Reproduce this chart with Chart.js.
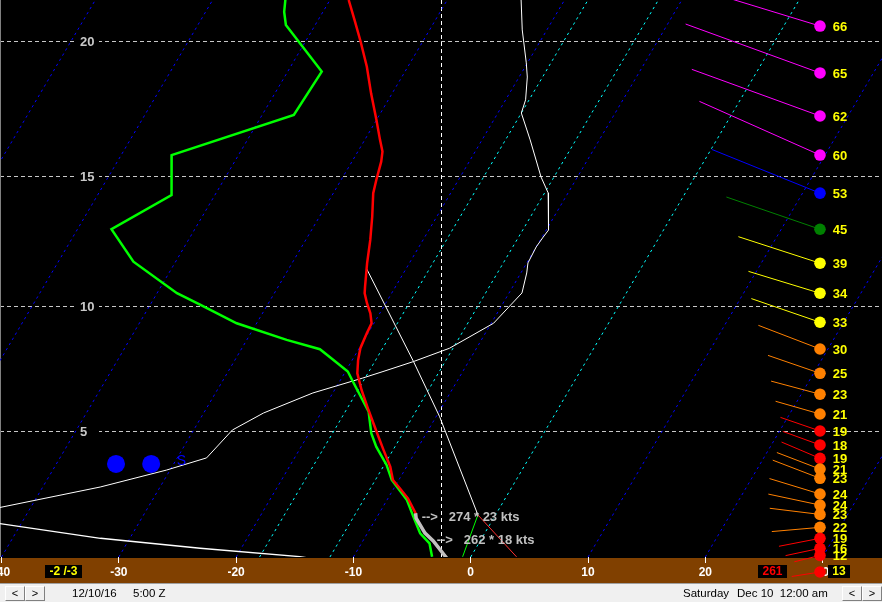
<!DOCTYPE html>
<html><head><meta charset="utf-8">
<script src="https://cdn.jsdelivr.net/npm/chart.js@4.4.0/dist/chart.umd.min.js"></script>
<style>
html,body{margin:0;padding:0;background:#f0f0f0;width:882px;height:602px;overflow:hidden;font-family:"Liberation Sans",Arial,sans-serif;}
#c{position:absolute;left:0;top:0;display:block;}
#status{position:absolute;left:0;top:583px;width:882px;height:18px;border-top:1px solid #a0a0a0;background:#f0f0f0;color:#000;font-size:11.5px;}
.btn{position:absolute;top:2px;width:18px;height:13px;border:1px solid;border-color:#ffffff #808080 #808080 #ffffff;background:#f0f0f0;text-align:center;line-height:13px;font-size:11px;color:#000;}
.txt{position:absolute;top:2px;line-height:15px;white-space:pre;}
.box{position:absolute;top:565px;height:13px;background:#000;font-weight:bold;font-size:12px;line-height:13px;text-align:center;white-space:pre;}
</style></head>
<body>
<canvas id="c" width="882" height="583"></canvas>
<div class="box" id="sfcTT" style="left:45px;width:37px;color:#ffff00;"></div>
<div class="box" id="sfcWD" style="left:758px;width:29px;color:#ff0000;"></div>
<div class="box" id="sfcWS" style="left:828px;width:22px;color:#ffff00;"></div>
<div id="status">
  <div class="btn" style="left:5px;">&lt;</div>
  <div class="btn" style="left:25px;">&gt;</div>
  <div class="txt" style="left:72px;">12/10/16</div>
  <div class="txt" style="left:133px;">5:00 Z</div>
  <div class="txt" style="left:683px;">Saturday</div>
  <div class="txt" style="left:737px;">Dec 10  12:00 am</div>
  <div class="btn" style="left:842px;">&lt;</div>
  <div class="btn" style="left:862px;">&gt;</div>
</div>
<script>
// ---------- data (heights in thousands of feet, temperatures in °C) ----------
const heightTicks = [5, 10, 15, 20];
const tempTicks   = [-40, -30, -20, -10, 0, 10, 20, 30];
const isoBlue     = [-60, -50, -40, -30, -20, -10, 10, 20, 30];
const isoCyan     = [-18, -12, 0];

const tempH = [21.5,20.78,20.0,19.08,18.1,17.11,16.37,15.93,15.55,14.86,14.36,13.46,12.57,11.67,10.76,10.5,10.11,9.71,9.32,8.92,8.33,7.86,7.33,6.66,5.85,4.91,4.22,3.54,2.99,2.65,2.23,1.61,1.40,0.78,0.45,-0.27];
const tempC = [-38.4,-36.9,-35.3,-33.5,-31.8,-30.0,-28.7,-27.9,-27.5,-27.0,-26.6,-25.5,-24.5,-23.6,-22.6,-22.3,-21.6,-20.8,-20.2,-20.1,-19.9,-19.5,-18.9,-17.7,-16.1,-14.2,-12.8,-11.4,-10.5,-9.5,-8.3,-6.9,-6.6,-5.1,-4.0,-2.0];

const dewH = [21.5,21.07,20.6,18.9,17.3,15.80,14.29,12.98,11.73,10.50,10.04,9.32,8.66,8.29,7.86,7.40,6.93,5.78,4.91,4.36,3.61,2.99,2.16,1.46,0.77,0.35,-0.22];
const dewC = [-43.8,-43.3,-42.5,-37.1,-37.3,-45.7,-43.7,-47.1,-43.6,-38.3,-35.7,-31.7,-26.6,-23.3,-21.6,-19.8,-18.7,-16.0,-14.7,-13.6,-11.8,-10.6,-8.3,-6.9,-5.5,-4.2,-3.3];

const lowLayerTop = 1.61;   // grey overlay on the lowest part of the temperature trace

const whiteAH = [21.5,20.42,19.22,18.70,17.86,17.37,16.37,14.97,14.37,12.95,12.68,12.30,11.68,11.29,10.51,9.32,8.33,7.80,7.40,7.14,6.54,5.73,5.04,3.90,3.40,2.70,1.83];
const whiteAC = [-23.7,-22.1,-20.1,-19.3,-18.3,-18.0,-15.9,-13.1,-11.7,-9.8,-9.9,-10.0,-9.9,-9.5,-8.9,-9.8,-12.3,-14.7,-16.8,-18.2,-21.7,-24.9,-26.7,-27.5,-30.3,-35.1,-42.8];

const whiteBH = [1.19,0.56,0.14,-0.21,-0.30];
const whiteBC = [-42.0,-32.5,-23.5,-14.6,-13.4];

const parcelH = [11.47,7.80,5.58,1.54];
const parcelC = [-23.4,-14.7,-9.7,-1.5];
const dryH    = [1.54,-0.22];
const dryC    = [-1.5,3.9];
const mixH    = [1.54,-0.22];
const mixC    = [-1.5,-0.7];

const windH   = [20.56,18.85,17.26,15.80,14.36,12.98,11.67,10.50,9.36,8.30,7.33,6.49,5.69,5.00,4.43,3.88,3.44,3.06,2.41,1.95,1.56,1.02,0.56,0.14,-0.16];
const windDir = [287,290,290,294,292,289,288,287,289,291,289,285,286,289,290,293,291,291,287,282,277,265,259,258,256];
const windSpd = [66,65,62,60,53,45,39,34,33,30,25,23,21,19,18,19,21,23,24,24,23,22,19,16,12];
const sfcDir = 261, sfcSpd = 13;

const motionDir = [274, 262];
const motionSpd = [23, 18];
const motionH   = [1.44, 0.49];
const motionX   = [-4.18, -2.90];

const snowDotX = [-30.24, -27.24];
const snowDotH = 3.65;
const snowTextX = -25.06, snowTextH = 3.78;

const markerX = -2.53;

// ---------- coordinate helpers ----------
function hToP(h){ return 1013.25*Math.pow(1-6.8756e-3*h, 5.2559); }
const PB = hToP(-0.227), PT = hToP(21.5);
const SKEW = 32.98;               // °C of skew per unit ln(p)
const XMIN = -40.128, XMAX = 35.064;
const sx = (T,p) => T + SKEW*Math.log(PB/p);
const mk = (H,C) => H.map((h,i)=>{const p=hToP(h);return {x:sx(C[i],p), y:p};});

const grayH = tempH.filter(h=>h<=lowLayerTop);
const grayC = tempC.slice(tempH.length-grayH.length);

document.getElementById('sfcTT').textContent = Math.round(tempC[tempC.length-1]) + ' /' + Math.round(dewC[dewC.length-1]);
document.getElementById('sfcWD').textContent = String(sfcDir);
document.getElementById('sfcWS').textContent = String(sfcSpd);

const line = (data,color,w,order,dash)=>({data, borderColor:color, borderWidth:w, order, showLine:true, pointRadius:0, tension:0, fill:false, borderDash:dash||[]});

const datasets = [
  line(mk(grayH,grayC), '#c0c0c0', 3.5, 1),
  line(mk(tempH,tempC), '#ff0000', 2.5, 2),
  line(mk(dewH,dewC),   '#00ff00', 2.5, 3),
  line(mk(parcelH,parcelC), '#ffffff', 1, 4),
  line(mk(dryH,dryC), '#ff3030', 1, 4),
  line(mk(mixH,mixC), '#00ff00', 1, 4),
  line(mk(whiteAH,whiteAC), '#ffffff', 1, 5),
  line(mk(whiteBH,whiteBC), '#ffffff', 1.4, 5),
  {data: snowDotX.map(x=>({x, y:hToP(snowDotH)})), showLine:false, pointRadius:9, pointBackgroundColor:'#0000ff', pointBorderWidth:0, order:0},
];
isoBlue.forEach(T=>datasets.push(line([{x:T,y:PB},{x:sx(T,PT),y:PT}], '#0000ff', 1, 10, [2.5,3.5])));
isoCyan.forEach(T=>datasets.push(line([{x:T,y:PB},{x:sx(T,PT),y:PT}], '#00ffff', 1, 9, [2.5,3.5])));

function windColor(s){
  if(s<20) return '#ff0000';
  if(s<=30) return '#ff8000';
  if(s<40) return '#ffff00';
  if(s<50) return '#008000';
  if(s<60) return '#0000ff';
  return '#ff00ff';
}

const bgPlugin = {
  id:'bg',
  beforeDraw(chart){
    const {ctx, chartArea:ca, width, height} = chart;
    ctx.save();
    ctx.fillStyle='#000'; ctx.fillRect(0,0,width,ca.bottom+1);
    ctx.fillStyle='#804000'; ctx.fillRect(0,ca.bottom+1,width,height-ca.bottom-1);
    ctx.restore();
  },
  beforeDatasetsDraw(chart){
    const {ctx, chartArea:ca} = chart;
    const xs=chart.scales.x, ys=chart.scales.y;
    ctx.save();
    ctx.beginPath(); ctx.rect(ca.left,ca.top,ca.width,ca.height); ctx.clip();
    ctx.lineWidth=1;
    ctx.strokeStyle='#c8c8c8'; ctx.setLineDash([4,3]);
    heightTicks.forEach(h=>{
      const py=Math.round(ys.getPixelForValue(hToP(h)))+0.5;
      ctx.beginPath(); ctx.moveTo(ca.left,py); ctx.lineTo(ca.right,py); ctx.stroke();
    });
    const mx=Math.round(xs.getPixelForValue(markerX))+0.5;
    ctx.strokeStyle='#ffffff'; ctx.setLineDash([4,3]);
    ctx.beginPath(); ctx.moveTo(mx,ca.top); ctx.lineTo(mx,ca.bottom); ctx.stroke();
    ctx.setLineDash([]);
    ctx.font='bold 13px "Liberation Sans", Arial, sans-serif';
    ctx.textAlign='left'; ctx.textBaseline='middle';
    heightTicks.forEach(h=>{
      const py=Math.round(ys.getPixelForValue(hToP(h)));
      ctx.fillStyle='#000'; ctx.fillRect(ca.left+76,py-7,23,14);
      ctx.fillStyle='#c8c8c8'; ctx.fillText(String(h), ca.left+80, py+1);
    });
    // left border
    ctx.fillStyle='#808080'; ctx.fillRect(0,0,1,ca.bottom);
    ctx.restore();
  },
  afterDatasetsDraw(chart){
    const {ctx, chartArea:ca} = chart;
    const xs=chart.scales.x, ys=chart.scales.y;
    ctx.save();
    // storm motion labels
    ctx.font='bold 13px "Liberation Sans", Arial, sans-serif';
    ctx.textAlign='left'; ctx.textBaseline='middle'; ctx.fillStyle='#c0c0c0';
    motionDir.forEach((d,i)=>{
      const px=xs.getPixelForValue(motionX[i]), py=ys.getPixelForValue(hToP(motionH[i]));
      ctx.fillText('-->', px, py);
      ctx.fillText(d+' * '+motionSpd[i]+' kts', px+27, py);
    });
    // snow marker text
    ctx.fillStyle='#0000ff'; ctx.font='14px "Liberation Sans", Arial, sans-serif';
    ctx.fillText('S', xs.getPixelForValue(snowTextX), ys.getPixelForValue(hToP(snowTextH)));
    // wind profile
    const dotX = ca.right-62;
    const draw = (py,dir,spd,label)=>{
      const L=2.2*spd, r=dir*Math.PI/180;
      const col=windColor(spd);
      ctx.strokeStyle=col; ctx.lineWidth=1;
      ctx.beginPath(); ctx.moveTo(dotX,py); ctx.lineTo(dotX+L*Math.sin(r), py-L*Math.cos(r)); ctx.stroke();
      ctx.fillStyle=col; ctx.beginPath(); ctx.arc(dotX,py,5.8,0,Math.PI*2); ctx.fill();
      if(label){
        ctx.fillStyle='#ffff00'; ctx.font='bold 13px "Liberation Sans", Arial, sans-serif';
        ctx.textAlign='left'; ctx.textBaseline='middle';
        ctx.fillText(String(spd), dotX+12.7, py+1);
      }
    };
    windH.forEach((h,i)=>draw(ys.getPixelForValue(hToP(h)), windDir[i], windSpd[i], true));
    draw(ca.bottom+15, sfcDir, sfcSpd, false);
    ctx.restore();
  }
};

new Chart(document.getElementById('c'), {
  type:'scatter',
  data:{datasets},
  plugins:[bgPlugin],
  options:{
    responsive:false, animation:false, devicePixelRatio:1,
    layout:{padding:0, autoPadding:false},
    plugins:{legend:{display:false}, tooltip:{enabled:false}},
    scales:{
      x:{type:'linear', min:XMIN, max:XMAX, bounds:'data', position:'bottom',
         afterBuildTicks:s=>{ s.ticks = tempTicks.map(v=>({value:v})); },
         afterFit:s=>{ s.height=26; s.paddingLeft=0; s.paddingRight=0; },
         grid:{display:true, drawOnChartArea:false, drawTicks:true, tickLength:6, tickColor:'#ffffff', tickWidth:1, color:'#ffffff'},
         border:{display:false},
         ticks:{color:'#ffffff', font:{family:'"Liberation Sans", Arial, sans-serif', size:12, weight:'bold'}, padding:2, maxRotation:0, minRotation:0, autoSkip:false, callback:v=>String(v)}
      },
      y:{type:'logarithmic', reverse:true, min:PT, max:PB, bounds:'data', display:false}
    }
  }
});
</script>
</body></html>
